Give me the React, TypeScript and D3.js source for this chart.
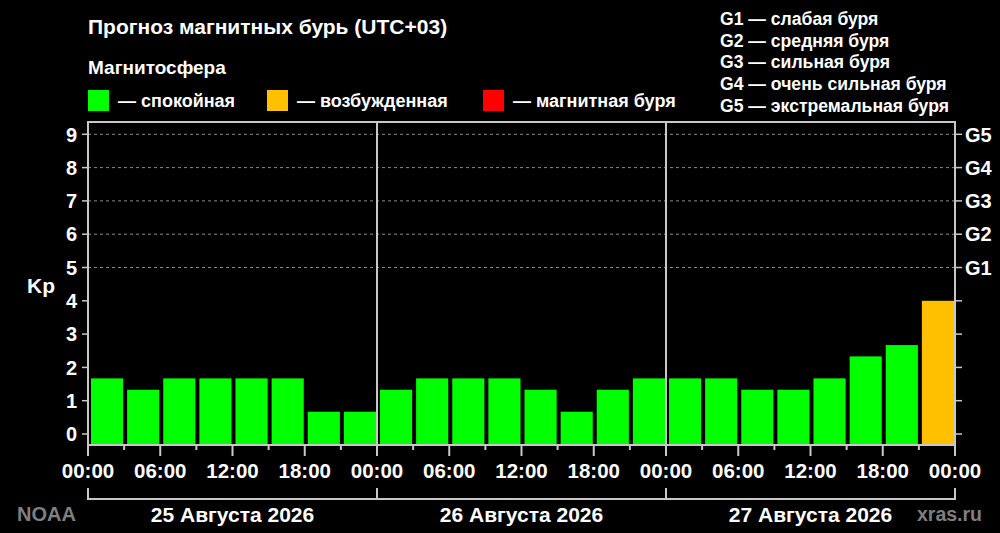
import * as d3 from "d3";

const kpValues = [
  1.67, 1.33, 1.67, 1.67, 1.67, 1.67, 0.67, 0.67,
  1.33, 1.67, 1.67, 1.67, 1.33, 0.67, 1.33, 1.67,
  1.67, 1.67, 1.33, 1.33, 1.67, 2.33, 2.67, 4.0,
];
const dayLabels = ["25 Августа 2026", "26 Августа 2026", "27 Августа 2026"];
const hourTicks = [0, 6, 12, 18, 24, 30, 36, 42, 48, 54, 60, 66, 72];
const kpTicks = [0, 1, 2, 3, 4, 5, 6, 7, 8, 9];
const gLabels = ["G1", "G2", "G3", "G4", "G5"];
const gLegend = [
  "G1 — слабая буря",
  "G2 — средняя буря",
  "G3 — сильная буря",
  "G4 — очень сильная буря",
  "G5 — экстремальная буря",
];
const stateLegend = [
  { label: "— спокойная", color: "#00ff00" },
  { label: "— возбужденная", color: "#ffc000" },
  { label: "— магнитная буря", color: "#ff0000" },
];

const W = 1000;
const H = 533;
const left = 88;
const right = 955;
const top = 122;
const bottom = 445;
const axisColor = "#c8c8c8";
const font = "'Liberation Sans', Arial, sans-serif";

function barColor(kp: number) {
  if (kp >= 5) return "#ff0000";
  if (kp >= 4) return "#ffc000";
  return "#00ff00";
}

export default function App() {
  const x = d3.scaleLinear().domain([0, 72]).range([left, right]);
  const y = d3.scaleLinear().domain([0, 9]).range([434, 134.3]);
  const slot = x(3) - x(0);
  const fmt = (h: number) => `${String(h % 24).padStart(2, "0")}:00`;
  const legendX = [88, 267, 483];

  return (
    <svg
      width={W}
      height={H}
      style={{ display: "block", position: "absolute", left: 0, top: 0, background: "#000" }}
      fontFamily={font}
      fontWeight="bold"
    >
      <rect width={W} height={H} fill="#000" />
      <text x={88} y={34} fill="#fff" fontSize={21}>
        Прогноз магнитных бурь (UTC+03)
      </text>
      <text x={88} y={74} fill="#fff" fontSize={19}>
        Магнитосфера
      </text>
      {stateLegend.map((d, i) => (
        <g key={d.label}>
          <rect x={legendX[i]} y={90} width={21} height={21} fill={d.color} />
          <text x={legendX[i] + 30} y={107} fill="#fff" fontSize={18}>
            {d.label}
          </text>
        </g>
      ))}
      {gLegend.map((t, i) => (
        <text key={t} x={720} y={25 + i * 21.7} fill="#fff" fontSize={17.6}>
          {t}
        </text>
      ))}

      {/* grid */}
      {kpTicks
        .filter((k) => k >= 5)
        .map((k) => (
          <line
            key={k}
            x1={left}
            x2={right}
            y1={y(k)}
            y2={y(k)}
            stroke="#8a8a8a"
            strokeWidth={1}
            strokeDasharray="3,3"
          />
        ))}

      {/* bars */}
      {kpValues.map((v, i) => (
        <rect
          key={i}
          x={x(i * 3) + 3}
          width={slot - 4}
          y={y(v)}
          height={bottom - y(v)}
          fill={barColor(v)}
        />
      ))}

      {/* frame */}
      <path
        d={`M${left},${bottom}V${top}H${right}V${bottom}H${left}`}
        fill="none"
        stroke={axisColor}
        strokeWidth={2}
      />
      {[24, 48].map((h) => (
        <line key={h} x1={x(h)} x2={x(h)} y1={top} y2={bottom} stroke={axisColor} strokeWidth={2} />
      ))}

      {/* y ticks */}
      {kpTicks.map((k) => (
        <g key={k}>
          <line x1={left - 6} x2={left} y1={y(k)} y2={y(k)} stroke={axisColor} strokeWidth={1.5} />
          <line x1={right} x2={right + 7} y1={y(k)} y2={y(k)} stroke={axisColor} strokeWidth={1.5} />
          <text x={77} y={y(k)} dy="0.36em" textAnchor="end" fill="#fff" fontSize={20}>
            {k}
          </text>
        </g>
      ))}
      {gLabels.map((g, i) => (
        <text key={g} x={965} y={y(5 + i)} dy="0.36em" fill="#fff" fontSize={20}>
          {g}
        </text>
      ))}
      <text x={41} y={285} dy="0.36em" textAnchor="middle" fill="#fff" fontSize={21}>
        Kp
      </text>

      {/* x ticks */}
      {d3.range(0, 73, 3).map((h) => (
        <line
          key={h}
          x1={x(h)}
          x2={x(h)}
          y1={bottom}
          y2={h % 6 === 0 ? 456 : 450}
          stroke={axisColor}
          strokeWidth={2}
        />
      ))}
      {hourTicks.map((h) => (
        <text key={h} x={x(h)} y={471} dy="0.36em" textAnchor="middle" fill="#fff" fontSize={20.5}>
          {fmt(h)}
        </text>
      ))}

      {/* day brackets */}
      <path
        d={`M${x(0)},488V499H${x(72)}V488M${x(24)},488V499M${x(48)},488V499`}
        fill="none"
        stroke={axisColor}
        strokeWidth={2}
      />
      {dayLabels.map((d, i) => (
        <text key={d} x={x(i * 24 + 12)} y={514} dy="0.36em" textAnchor="middle" fill="#fff" fontSize={21}>
          {d}
        </text>
      ))}
      <text x={17} y={514} dy="0.36em" fill="#7f7f7f" fontSize={20}>
        NOAA
      </text>
      <text x={982} y={514} dy="0.36em" textAnchor="end" fill="#7f7f7f" fontSize={19.5}>
        xras.ru
      </text>
    </svg>
  );
}
